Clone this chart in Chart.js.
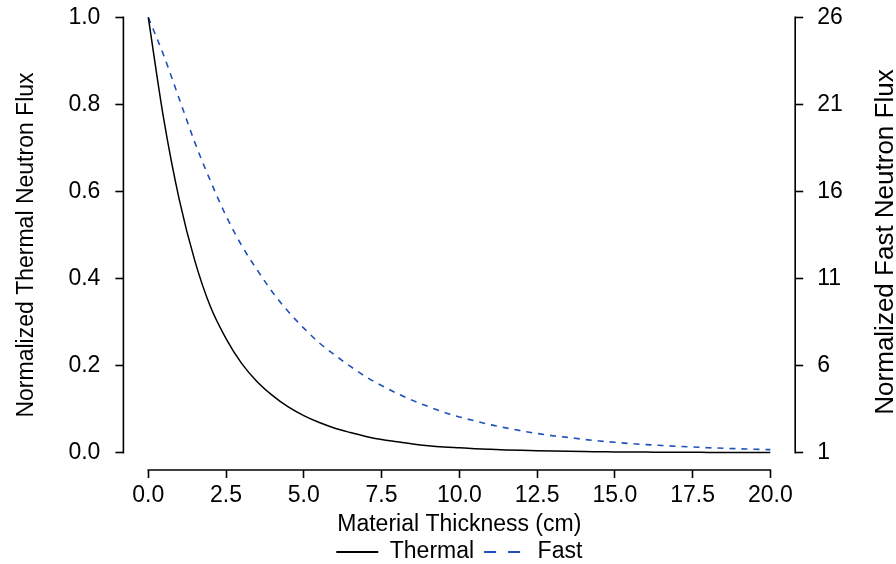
<!DOCTYPE html>
<html>
<head>
<meta charset="utf-8">
<script src="https://cdn.jsdelivr.net/npm/chart.js@4.4.1/dist/chart.umd.min.js"></script>
<style>
html,body{margin:0;padding:0;background:#fff;}
canvas{display:block;}
</style>
</head>
<body>
<canvas id="c" width="896" height="564"></canvas>
<script>
// ---- data ----
const thickness = [0,0.5,1,1.5,2,2.5,3,3.5,4,4.5,5,5.5,6,6.5,7,7.5,8,8.5,9,9.5,10,
  10.5,11,11.5,12,12.5,13,13.5,14,14.5,15,15.5,16,16.5,17,17.5,18,18.5,19,19.5,20];
const thermalFlux = [1.000,0.765,0.580,0.440,0.335,0.262,0.205,0.163,0.131,0.105,0.085,
  0.069,0.056,0.046,0.037,0.030,0.025,0.020,0.016,0.013,0.011,
  0.009,0.0075,0.0062,0.0051,0.0042,0.0035,0.0029,0.0024,0.0020,0.0016,
  0.0013,0.0011,0.0009,0.0008,0.0006,0.0005,0.0004,0.0003,0.0003,0.0002];
const fastFlux = [26.0,23.8,21.3,18.8,16.6,14.6,12.9,11.5,10.2,9.1,8.15,
  7.3,6.6,5.95,5.35,4.85,4.4,4.0,3.65,3.32,3.05,
  2.82,2.6,2.42,2.25,2.1,1.97,1.87,1.76,1.67,1.59,
  1.52,1.46,1.41,1.36,1.32,1.28,1.25,1.22,1.19,1.17];
const xTicks = [0,2.5,5,7.5,10,12.5,15,17.5,20];
const leftTicks = [0,0.2,0.4,0.6,0.8,1.0];
const rightTicks = [1,6,11,16,21,26];
const seriesNames = ['Thermal','Fast'];
const xTitle = 'Material Thickness (cm)';
const leftTitle = 'Normalized Thermal Neutron Flux';
const rightTitle = 'Normalized Fast Neutron Flux';

const FONT = "'Liberation Sans', Arial, Helvetica, sans-serif";
const FS = 23;
const BLUE = '#1f50b8';
Chart.defaults.font.family = FONT;
Chart.defaults.font.size = FS;
Chart.defaults.color = '#000';

const tickGrid = {display:true, drawOnChartArea:false, drawTicks:true, tickLength:8, tickColor:'#000', tickWidth:1.6};
function noPad(s){ s.paddingTop = 0; s.paddingBottom = 0; s.paddingLeft = 0; s.paddingRight = 0; }

const axisPlugin = {
  id:'rAxes',
  afterDraw(chart){
    const {ctx, scales} = chart;
    const x = scales.x, y = scales.y, y1 = scales.y1;
    ctx.save();
    ctx.strokeStyle = '#000';
    ctx.lineWidth = 1.6;
    ctx.lineCap = 'square';
    ctx.beginPath();
    const xb = x.top;
    ctx.moveTo(x.getPixelForValue(xTicks[0]), xb);
    ctx.lineTo(x.getPixelForValue(xTicks[xTicks.length-1]), xb);
    ctx.moveTo(y.right, y.getPixelForValue(leftTicks[0]));
    ctx.lineTo(y.right, y.getPixelForValue(leftTicks[leftTicks.length-1]));
    ctx.moveTo(y1.left, y1.getPixelForValue(rightTicks[0]));
    ctx.lineTo(y1.left, y1.getPixelForValue(rightTicks[rightTicks.length-1]));
    ctx.stroke();
    ctx.fillStyle = '#000';
    ctx.textAlign = 'center';
    ctx.textBaseline = 'alphabetic';
    ctx.font = FS + 'px ' + FONT;
    ctx.save(); ctx.translate(33, 245); ctx.rotate(-Math.PI/2); ctx.fillText(leftTitle, 0, 0); ctx.restore();
    ctx.font = '26px ' + FONT;
    ctx.save(); ctx.translate(893, 242); ctx.rotate(-Math.PI/2); ctx.fillText(rightTitle, 0, 0); ctx.restore();
    ctx.restore();
  }
};

new Chart(document.getElementById('c'), {
  type:'line',
  data:{
    datasets:[
      {label:seriesNames[0], data:thickness.map((t,i)=>({x:t,y:thermalFlux[i]})), yAxisID:'y',
       borderColor:'#000', backgroundColor:'#000', borderWidth:1.5, pointRadius:0, pointStyle:'line',
       cubicInterpolationMode:'monotone', fill:false},
      {label:seriesNames[1], data:thickness.map((t,i)=>({x:t,y:fastFlux[i]})), yAxisID:'y1',
       borderColor:BLUE, backgroundColor:BLUE, borderWidth:1.6, borderDash:[6,6], pointRadius:0, pointStyle:'line',
       cubicInterpolationMode:'monotone', fill:false}
    ]
  },
  options:{
    responsive:false, animation:false, devicePixelRatio:1,
    layout:{padding:0},
    plugins:{
      tooltip:{enabled:false},
      legend:{
        position:'bottom', fullSize:false, maxHeight:33.5,
        labels:{
          usePointStyle:true, pointStyleWidth:42, padding:10, color:'#000',
          font:{size:FS, family:FONT},
          generateLabels(chart){
            const items = Chart.defaults.plugins.legend.labels.generateLabels(chart);
            items.forEach((it,i)=>{
              const ds = chart.data.datasets[i];
              it.pointStyle = 'line';
              it.strokeStyle = ds.borderColor;
              it.fillStyle = ds.borderColor;
              it.lineWidth = 2;
              it.lineDash = ds.borderDash ? [12,12] : [];
              it.lineDashOffset = 0;
            });
            return items;
          }
        }
      }
    },
    scales:{
      x:{
        type:'linear', position:'bottom', min:-0.8, max:20.8,
        afterBuildTicks(s){ s.ticks = xTicks.map(v=>({value:v})); },
        afterFit(s){ s.height = 60.5; noPad(s); },
        ticks:{autoSkip:false, maxRotation:0, padding:4, color:'#000', font:{size:FS, lineHeight:1.2},
               callback:v=>Number(v).toFixed(1)},
        grid:tickGrid, border:{display:false},
        title:{display:true, text:xTitle, color:'#000', font:{size:FS, lineHeight:1}, padding:{top:0,bottom:-6}}
      },
      y:{
        type:'linear', position:'left', min:-0.04, max:1.04,
        afterBuildTicks(s){ s.ticks = leftTicks.map(v=>({value:v})); },
        afterFit(s){ s.width = 123.4; noPad(s); },
        ticks:{autoSkip:false, padding:15, color:'#000', font:{size:FS}, callback:v=>Number(v).toFixed(1)},
        grid:tickGrid, border:{display:false}
      },
      y1:{
        type:'linear', position:'right', min:0, max:27,
        afterBuildTicks(s){ s.ticks = rightTicks.map(v=>({value:v})); },
        afterFit(s){ s.width = 100.8; noPad(s); },
        ticks:{autoSkip:false, padding:14, color:'#000', font:{size:FS}, callback:v=>String(v)},
        grid:tickGrid, border:{display:false}
      }
    }
  },
  plugins:[axisPlugin]
});
</script>
</body>
</html>
